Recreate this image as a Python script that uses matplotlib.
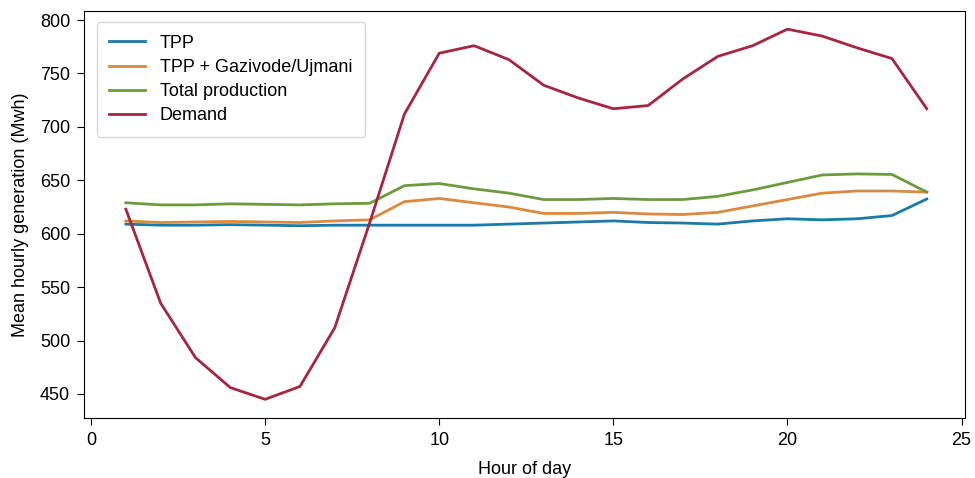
import matplotlib
matplotlib.use("Agg")
import matplotlib.pyplot as plt

plt.rcParams["font.family"] = ["Liberation Sans", "DejaVu Sans"]

hours = list(range(1, 25))

tpp = [609, 608, 608, 608.5, 608, 607.5, 608, 608, 608, 608, 608, 609,
       610, 611, 612, 610.5, 610, 609, 612, 614, 613, 614, 617, 632.5]
tpp_hydro = [612, 610.5, 611, 611.5, 611, 610.5, 612, 613, 630, 633, 629, 625,
             619, 619, 620, 618.5, 618, 620, 626, 632, 638, 640, 640, 639]
total = [629, 627, 627, 628, 627.5, 627, 628, 628.5, 645, 647, 642, 638,
         632, 632, 633, 632, 632, 635, 641, 648, 655, 656, 655.5, 639]
demand = [623, 535, 484, 456, 445, 457, 512, 610, 712, 769, 776, 763,
          739, 727, 717, 720, 745, 766, 776, 791.5, 785, 774, 764, 717]

series = [
    ("TPP", tpp, "#1a7aa8"),
    ("TPP + Gazivode/Ujmani", tpp_hydro, "#d98a3e"),
    ("Total production", total, "#6e9a3f"),
    ("Demand", demand, "#a62540"),
]

fig = plt.figure(figsize=(9.75, 4.78), dpi=100)
ax = fig.add_axes([0.0862, 0.1255, 0.9036, 0.8515])

for label, values, color in series:
    ax.plot(hours, values, color=color, linewidth=2, label=label)

ax.set_xlim(-0.2, 25.1)
ax.set_ylim(427.5, 808.5)
ax.set_xticks([0, 5, 10, 15, 20, 25])
ax.set_yticks([450, 500, 550, 600, 650, 700, 750, 800])
ax.tick_params(labelsize=13, length=5, pad=5)
ax.set_xlabel("Hour of day", fontsize=13, labelpad=9)
ax.set_ylabel("Mean hourly generation (Mwh)", fontsize=13, labelpad=8)
ax.legend(loc="upper left", fontsize=13, handlelength=2, borderpad=0.7,
          labelspacing=0.4, bbox_to_anchor=(0.004, 0.995))

fig.savefig("out.png", dpi=100)
